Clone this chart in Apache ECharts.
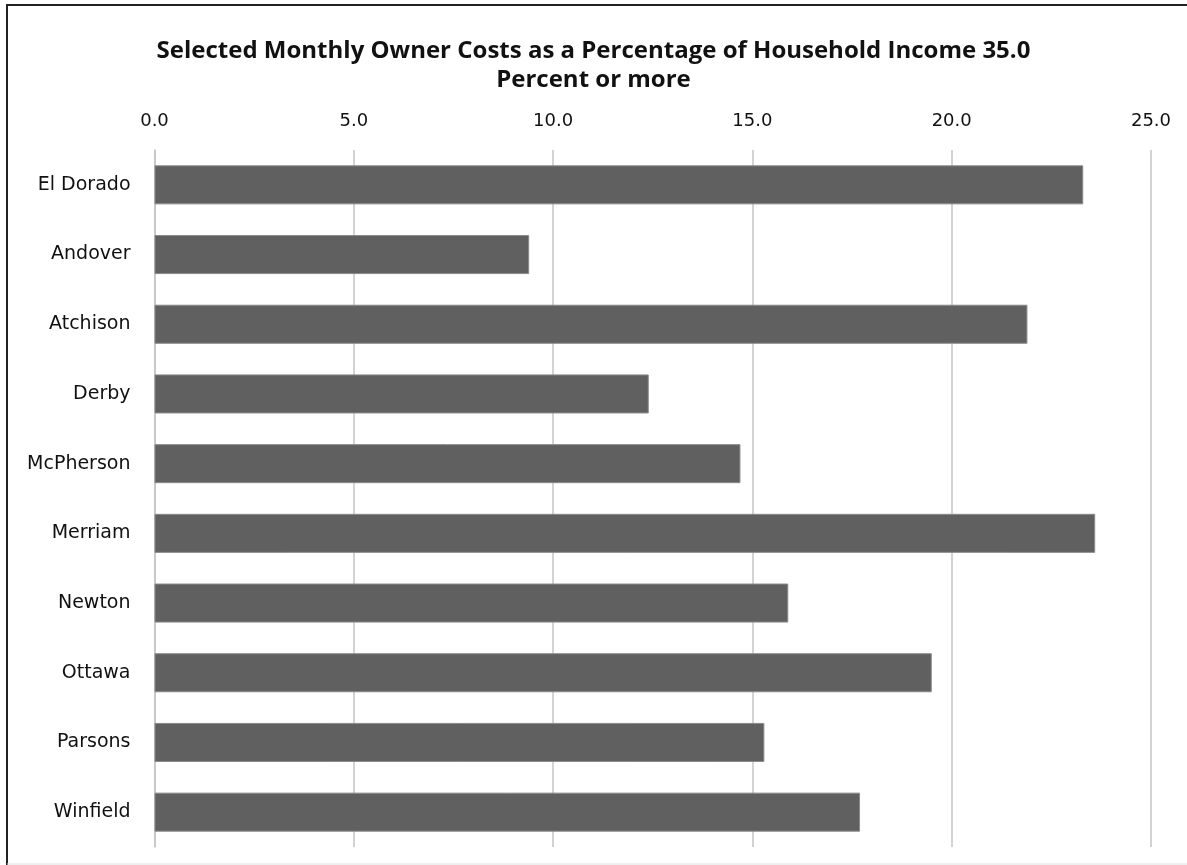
<!DOCTYPE html>
<html>
<head>
<meta charset="utf-8">
<script src="https://cdn.jsdelivr.net/npm/echarts@6/dist/echarts.min.js"></script>
<style>
html,body{margin:0;padding:0;background:#fff;}
#chart{width:1187px;height:865px;}
</style>
</head>
<body>
<div id="chart"></div>
<script>
const categories = ["El Dorado","Andover","Atchison","Derby","McPherson","Merriam","Newton","Ottawa","Parsons","Winfield"];
const values = [23.3, 9.4, 21.9, 12.4, 14.7, 23.6, 15.9, 19.5, 15.3, 17.7];
const titleText = "Selected Monthly Owner Costs as a Percentage of Household Income 35.0\nPercent or more";

const chart = echarts.init(document.getElementById('chart'));
chart.setOption({
  animation: false,
  backgroundColor: '#ffffff',
  title: {
    text: titleText,
    left: 'center',
    top: 32,
    textStyle: {fontFamily: 'Open Sans', fontWeight: 'bold', fontSize: 24, color: '#111', lineHeight: 29}
  },
  graphic: [
    {type: 'line', shape: {x1: 6, y1: 5, x2: 1187, y2: 5}, style: {stroke: '#222', lineWidth: 2}},
    {type: 'line', shape: {x1: 7, y1: 5, x2: 7, y2: 865}, style: {stroke: '#222', lineWidth: 2}},
    {type: 'line', shape: {x1: 7, y1: 864, x2: 1187, y2: 864}, style: {stroke: '#ddd', lineWidth: 1}}
  ],
  grid: {left: 154.5, right: 36, top: 150, bottom: 18, containLabel: false},
  xAxis: {
    type: 'value',
    position: 'top',
    min: 0, max: 25, interval: 5,
    axisLine: {show: false},
    axisTick: {show: false},
    axisLabel: {formatter: v => v.toFixed(1), fontFamily: 'DejaVu Sans', fontSize: 18, color: '#111', margin: 20},
    splitLine: {lineStyle: {color: '#c4c4c4', width: 1.5}}
  },
  yAxis: {
    type: 'category',
    inverse: true,
    data: categories,
    axisLine: {show: true, lineStyle: {color: '#c4c4c4', width: 1.5}},
    axisTick: {show: false},
    axisLabel: {fontFamily: 'DejaVu Sans', fontSize: 19, color: '#111', margin: 24}
  },
  series: [{
    type: 'bar',
    data: values,
    barWidth: '56%',
    itemStyle: {color: '#606060', borderColor: '#8a8a8a', borderWidth: 1}
  }]
});
</script>
</body>
</html>
